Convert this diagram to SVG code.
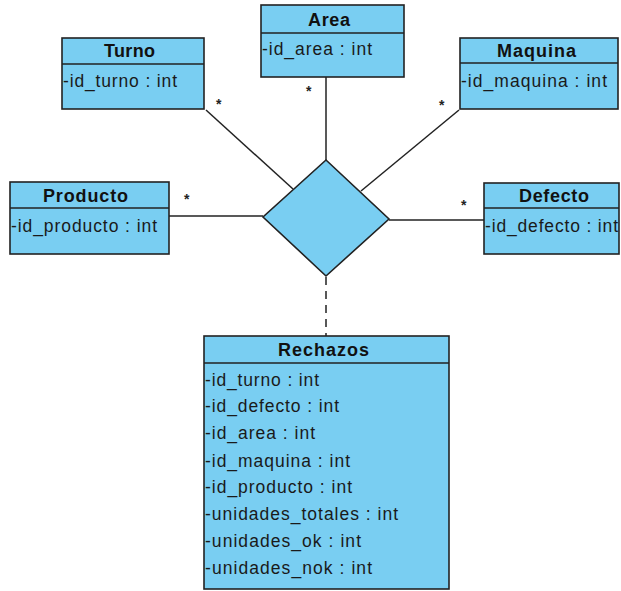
<svg xmlns="http://www.w3.org/2000/svg" width="621" height="591" viewBox="0 0 621 591">
  <style>
    .box { fill: #79cef2; stroke: #222; stroke-width: 1.6; }
    .sep { stroke: #222; stroke-width: 1.6; }
    .hdr { font-family: "Liberation Sans", Arial, sans-serif; font-weight: bold; font-size: 18px; fill: #111; }
    .att { font-family: "Liberation Sans", Arial, sans-serif; font-size: 17.5px; fill: #1a1a1a; }
    .edge { stroke: #222; stroke-width: 1.5; fill: none; }
    .dash { stroke-dasharray: 8 6; }
    .mult { font-family: "Liberation Sans", Arial, sans-serif; font-size: 14px; font-weight: bold; fill: #222; }
  </style>
  <rect width="621" height="591" fill="#fff"/>

  <g id="connectors">
    <line class="edge" x1="206" y1="110" x2="293" y2="189"/>
    <line class="edge" x1="326" y1="77" x2="326" y2="160"/>
    <line class="edge" x1="459" y1="110" x2="361" y2="191"/>
    <line class="edge" x1="169" y1="216" x2="263" y2="216"/>
    <line class="edge" x1="389" y1="220" x2="484" y2="220"/>
    <line class="edge dash" x1="326" y1="277" x2="326" y2="336"/>
    <text class="mult" x="216" y="109">*</text>
    <text class="mult" x="306" y="96">*</text>
    <text class="mult" x="439" y="110">*</text>
    <text class="mult" x="184" y="204">*</text>
    <text class="mult" x="461" y="210">*</text>
  </g>

  <g id="relation">
    <polygon class="box" points="326,160 389,219 326,276 263,217"/>
  </g>

  <g id="turno">
    <rect class="box" x="62" y="38" width="142" height="71"/>
    <line class="sep" x1="62" y1="64" x2="204" y2="64"/>
    <text class="hdr" x="104" y="57" textLength="51" lengthAdjust="spacing">Turno</text>
    <text class="att" x="63" y="87" textLength="114" lengthAdjust="spacing">-id_turno : int</text>
  </g>

  <g id="area">
    <rect class="box" x="261" y="5" width="143" height="72"/>
    <line class="sep" x1="261" y1="33" x2="404" y2="33"/>
    <text class="hdr" x="308" y="26" textLength="42" lengthAdjust="spacing">Area</text>
    <text class="att" x="262" y="55" textLength="110" lengthAdjust="spacing">-id_area : int</text>
  </g>

  <g id="maquina">
    <rect class="box" x="460" y="38" width="158" height="71"/>
    <line class="sep" x1="460" y1="63" x2="618" y2="63"/>
    <text class="hdr" x="497" y="57" textLength="79" lengthAdjust="spacing">Maquina</text>
    <text class="att" x="461" y="87" textLength="146" lengthAdjust="spacing">-id_maquina : int</text>
  </g>

  <g id="producto">
    <rect class="box" x="10" y="182" width="159" height="72"/>
    <line class="sep" x1="10" y1="208" x2="169" y2="208"/>
    <text class="hdr" x="43" y="202" textLength="85" lengthAdjust="spacing">Producto</text>
    <text class="att" x="11" y="232" textLength="146" lengthAdjust="spacing">-id_producto : int</text>
  </g>

  <g id="defecto">
    <rect class="box" x="484" y="183" width="135" height="71"/>
    <line class="sep" x1="484" y1="208" x2="619" y2="208"/>
    <text class="hdr" x="519" y="202" textLength="70" lengthAdjust="spacing">Defecto</text>
    <text class="att" x="485" y="232" textLength="133" lengthAdjust="spacing">-id_defecto : int</text>
  </g>

  <g id="rechazos">
    <rect class="box" x="204" y="336" width="245" height="253"/>
    <line class="sep" x1="204" y1="363" x2="449" y2="363"/>
    <text class="hdr" x="278" y="356" textLength="91" lengthAdjust="spacing">Rechazos</text>
    <text class="att" x="205" y="386" textLength="114" lengthAdjust="spacing">-id_turno : int</text>
    <text class="att" x="205" y="412" textLength="134" lengthAdjust="spacing">-id_defecto : int</text>
    <text class="att" x="205" y="439" textLength="110" lengthAdjust="spacing">-id_area : int</text>
    <text class="att" x="205" y="467" textLength="145" lengthAdjust="spacing">-id_maquina : int</text>
    <text class="att" x="205" y="493" textLength="147" lengthAdjust="spacing">-id_producto : int</text>
    <text class="att" x="205" y="520" textLength="193" lengthAdjust="spacing">-unidades_totales : int</text>
    <text class="att" x="205" y="547" textLength="156" lengthAdjust="spacing">-unidades_ok : int</text>
    <text class="att" x="205" y="574" textLength="167" lengthAdjust="spacing">-unidades_nok : int</text>
  </g>
</svg>
